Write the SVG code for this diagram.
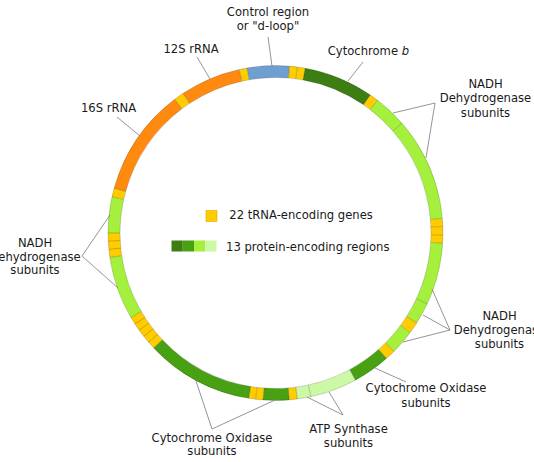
<svg xmlns="http://www.w3.org/2000/svg" width="534" height="462" viewBox="0 0 534 462">
<style>
text{font-family:"DejaVu Sans","Liberation Sans",sans-serif;font-size:11.6px;fill:#1a1a1a}
.m{text-anchor:middle}
.seg{fill:none;stroke-width:12}
.dk{stroke:#3c7e12}
.md{stroke:#48a112}
.lt{stroke:#a4f03c}
.pl{stroke:#cbf9a6}
.or{stroke:#ff8a0f}
.bl{stroke:#6f9fd1}
.ye{stroke:#ffcc00}
.tick{stroke:#000;stroke-opacity:0.28;stroke-width:0.7}
.ring{fill:none;stroke:#000;stroke-opacity:0.22;stroke-width:0.7}
.ld{fill:none;stroke:#7a7a7a;stroke-width:0.8}
</style>
<defs>
<line id="t" x1="275.5" y1="77.5" x2="275.5" y2="65.5" class="tick"/>
</defs>
<rect width="534" height="462" fill="#fff"/>
<g id="genome">
<g id="control-region"><circle cx="275.5" cy="233" r="161.5" pathLength="360" class="seg bl" stroke-dasharray="14.6 400" transform="rotate(260.2 275.5 233)"/></g>
<g id="trna-thr"><circle cx="275.5" cy="233" r="161.5" pathLength="360" class="seg ye" stroke-dasharray="2.7 400" transform="rotate(-85.2 275.5 233)"/></g>
<g id="trna-pro"><circle cx="275.5" cy="233" r="161.5" pathLength="360" class="seg ye" stroke-dasharray="2.7 400" transform="rotate(-82.5 275.5 233)"/></g>
<g id="cytb"><circle cx="275.5" cy="233" r="161.5" pathLength="360" class="seg dk" stroke-dasharray="24.3 400" transform="rotate(-79.8 275.5 233)"/></g>
<g id="trna-glu"><circle cx="275.5" cy="233" r="161.5" pathLength="360" class="seg ye" stroke-dasharray="3 400" transform="rotate(-55.5 275.5 233)"/></g>
<g id="nd6"><circle cx="275.5" cy="233" r="161.5" pathLength="360" class="seg lt" stroke-dasharray="11.5 400" transform="rotate(-52.5 275.5 233)"/></g>
<g id="nd5"><circle cx="275.5" cy="233" r="161.5" pathLength="360" class="seg lt" stroke-dasharray="36 400" transform="rotate(-41 275.5 233)"/></g>
<g id="trna-leu2"><circle cx="275.5" cy="233" r="161.5" pathLength="360" class="seg ye" stroke-dasharray="2.8 400" transform="rotate(-5 275.5 233)"/></g>
<g id="trna-ser2"><circle cx="275.5" cy="233" r="161.5" pathLength="360" class="seg ye" stroke-dasharray="2.9 400" transform="rotate(-2.2 275.5 233)"/></g>
<g id="trna-his"><circle cx="275.5" cy="233" r="161.5" pathLength="360" class="seg ye" stroke-dasharray="2.8 400" transform="rotate(0.7 275.5 233)"/></g>
<g id="nd4"><circle cx="275.5" cy="233" r="161.5" pathLength="360" class="seg lt" stroke-dasharray="21.5 400" transform="rotate(3.5 275.5 233)"/></g>
<g id="nd4l"><circle cx="275.5" cy="233" r="161.5" pathLength="360" class="seg lt" stroke-dasharray="7.5 400" transform="rotate(25 275.5 233)"/></g>
<g id="trna-arg"><circle cx="275.5" cy="233" r="161.5" pathLength="360" class="seg ye" stroke-dasharray="4 400" transform="rotate(32.5 275.5 233)"/></g>
<g id="nd3"><circle cx="275.5" cy="233" r="161.5" pathLength="360" class="seg lt" stroke-dasharray="8.5 400" transform="rotate(36.5 275.5 233)"/></g>
<g id="trna-gly"><circle cx="275.5" cy="233" r="161.5" pathLength="360" class="seg ye" stroke-dasharray="3.5 400" transform="rotate(45 275.5 233)"/></g>
<g id="cox3"><circle cx="275.5" cy="233" r="161.5" pathLength="360" class="seg md" stroke-dasharray="13 400" transform="rotate(48.5 275.5 233)"/></g>
<g id="atp6"><circle cx="275.5" cy="233" r="161.5" pathLength="360" class="seg pl" stroke-dasharray="16.3 400" transform="rotate(61.5 275.5 233)"/></g>
<g id="atp8"><circle cx="275.5" cy="233" r="161.5" pathLength="360" class="seg pl" stroke-dasharray="4.7 400" transform="rotate(77.8 275.5 233)"/></g>
<g id="trna-lys"><circle cx="275.5" cy="233" r="161.5" pathLength="360" class="seg ye" stroke-dasharray="2.8 400" transform="rotate(82.5 275.5 233)"/></g>
<g id="cox2"><circle cx="275.5" cy="233" r="161.5" pathLength="360" class="seg md" stroke-dasharray="9 400" transform="rotate(85.3 275.5 233)"/></g>
<g id="trna-asp"><circle cx="275.5" cy="233" r="161.5" pathLength="360" class="seg ye" stroke-dasharray="2.5 400" transform="rotate(94.3 275.5 233)"/></g>
<g id="trna-ser1"><circle cx="275.5" cy="233" r="161.5" pathLength="360" class="seg ye" stroke-dasharray="2.4 400" transform="rotate(96.8 275.5 233)"/></g>
<g id="cox1"><circle cx="275.5" cy="233" r="161.5" pathLength="360" class="seg md" stroke-dasharray="37.5 400" transform="rotate(99.2 275.5 233)"/></g>
<g id="trna-tyr-cys-asn-ala-trp"><circle cx="275.5" cy="233" r="161.5" pathLength="360" class="seg ye" stroke-dasharray="13 400" transform="rotate(136.7 275.5 233)"/></g>
<g id="nd2"><circle cx="275.5" cy="233" r="161.5" pathLength="360" class="seg lt" stroke-dasharray="21.9 400" transform="rotate(149.7 275.5 233)"/></g>
<g id="trna-met-gln-ile"><circle cx="275.5" cy="233" r="161.5" pathLength="360" class="seg ye" stroke-dasharray="8.4 400" transform="rotate(171.6 275.5 233)"/></g>
<g id="nd1"><circle cx="275.5" cy="233" r="161.5" pathLength="360" class="seg lt" stroke-dasharray="12.5 400" transform="rotate(180 275.5 233)"/></g>
<g id="trna-leu1"><circle cx="275.5" cy="233" r="161.5" pathLength="360" class="seg ye" stroke-dasharray="3 400" transform="rotate(192.5 275.5 233)"/></g>
<g id="rrna-16s"><circle cx="275.5" cy="233" r="161.5" pathLength="360" class="seg or" stroke-dasharray="37.5 400" transform="rotate(195.5 275.5 233)"/></g>
<g id="trna-val"><circle cx="275.5" cy="233" r="161.5" pathLength="360" class="seg ye" stroke-dasharray="3.5 400" transform="rotate(233 275.5 233)"/></g>
<g id="rrna-12s"><circle cx="275.5" cy="233" r="161.5" pathLength="360" class="seg or" stroke-dasharray="21 400" transform="rotate(236.5 275.5 233)"/></g>
<g id="trna-phe"><circle cx="275.5" cy="233" r="161.5" pathLength="360" class="seg ye" stroke-dasharray="2.7 400" transform="rotate(257.5 275.5 233)"/></g>
<circle cx="275.5" cy="233" r="167.5" class="ring"/>
<circle cx="275.5" cy="233" r="155.5" class="ring"/>
<g id="boundaries">
<use href="#t" transform="rotate(-9.8 275.5 233)"/>
<use href="#t" transform="rotate(4.8 275.5 233)"/>
<use href="#t" transform="rotate(7.5 275.5 233)"/>
<use href="#t" transform="rotate(10.2 275.5 233)"/>
<use href="#t" transform="rotate(34.5 275.5 233)"/>
<use href="#t" transform="rotate(37.5 275.5 233)"/>
<use href="#t" transform="rotate(49 275.5 233)"/>
<use href="#t" transform="rotate(85 275.5 233)"/>
<use href="#t" transform="rotate(87.8 275.5 233)"/>
<use href="#t" transform="rotate(90.7 275.5 233)"/>
<use href="#t" transform="rotate(93.5 275.5 233)"/>
<use href="#t" transform="rotate(115 275.5 233)"/>
<use href="#t" transform="rotate(122.5 275.5 233)"/>
<use href="#t" transform="rotate(126.5 275.5 233)"/>
<use href="#t" transform="rotate(135 275.5 233)"/>
<use href="#t" transform="rotate(138.5 275.5 233)"/>
<use href="#t" transform="rotate(151.5 275.5 233)"/>
<use href="#t" transform="rotate(167.8 275.5 233)"/>
<use href="#t" transform="rotate(172.5 275.5 233)"/>
<use href="#t" transform="rotate(175.3 275.5 233)"/>
<use href="#t" transform="rotate(184.3 275.5 233)"/>
<use href="#t" transform="rotate(186.8 275.5 233)"/>
<use href="#t" transform="rotate(189.2 275.5 233)"/>
<use href="#t" transform="rotate(226.7 275.5 233)"/>
<use href="#t" transform="rotate(229.3 275.5 233)"/>
<use href="#t" transform="rotate(231.9 275.5 233)"/>
<use href="#t" transform="rotate(234.5 275.5 233)"/>
<use href="#t" transform="rotate(237.1 275.5 233)"/>
<use href="#t" transform="rotate(239.7 275.5 233)"/>
<use href="#t" transform="rotate(261.6 275.5 233)"/>
<use href="#t" transform="rotate(264.4 275.5 233)"/>
<use href="#t" transform="rotate(267.2 275.5 233)"/>
<use href="#t" transform="rotate(270 275.5 233)"/>
<use href="#t" transform="rotate(282.5 275.5 233)"/>
<use href="#t" transform="rotate(285.5 275.5 233)"/>
<use href="#t" transform="rotate(323 275.5 233)"/>
<use href="#t" transform="rotate(326.5 275.5 233)"/>
<use href="#t" transform="rotate(347.5 275.5 233)"/>
</g>
</g>
<g id="connectors">
<polyline class="ld" points="268,37 272,66"/>
<polyline class="ld" points="197,57 210,79"/>
<polyline class="ld" points="363,62 348,81"/>
<polyline class="ld" points="117,117 140,136"/>
<polyline class="ld" points="393,113 435,103 426,158"/>
<polyline class="ld" points="432,289 450,330 423,315"/>
<polyline class="ld" points="450,330 403,342"/>
<polyline class="ld" points="375,368 406,382"/>
<polyline class="ld" points="307,397 343,415 329,392"/>
<polyline class="ld" points="195,378 212,429 275,400"/>
<polyline class="ld" points="110,215 82,256 118,288"/>
</g>
<g id="labels">
<g id="lbl-control"><text class="m" x="268" y="16">Control region</text><text class="m" x="268" y="30">or "d-loop"</text></g>
<g id="lbl-12s"><text class="m" x="191" y="53">12S rRNA</text></g>
<g id="lbl-cytb"><text x="327.7" y="55">Cytochrome <tspan font-style="italic">b</tspan></text></g>
<g id="lbl-16s"><text class="m" x="108.5" y="112">16S rRNA</text></g>
<g id="lbl-nadh-tr"><text class="m" x="485.5" y="87.5">NADH</text><text class="m" x="485.5" y="102">Dehydrogenase</text><text class="m" x="485.5" y="116.5">subunits</text></g>
<g id="lbl-nadh-br"><text class="m" x="499.5" y="319.5">NADH</text><text class="m" x="499.5" y="334">Dehydrogenase</text><text class="m" x="499.5" y="348">subunits</text></g>
<g id="lbl-cox-r"><text class="m" x="426" y="392">Cytochrome Oxidase</text><text class="m" x="426" y="406.5">subunits</text></g>
<g id="lbl-atp"><text class="m" x="348.5" y="433">ATP Synthase</text><text class="m" x="348.5" y="446.5">subunits</text></g>
<g id="lbl-cox-b"><text class="m" x="212" y="442">Cytochrome Oxidase</text><text class="m" x="212" y="455">subunits</text></g>
<g id="lbl-nadh-l"><text class="m" x="35" y="247">NADH</text><text class="m" x="35" y="260.5">Dehydrogenase</text><text class="m" x="35" y="274">subunits</text></g>
</g>
<g id="legend">
<rect x="206" y="210.5" width="11" height="11" fill="#ffcc00" stroke="#e0a800" stroke-width="0.6"/>
<text x="229.3" y="219.3">22 tRNA-encoding genes</text>
<rect x="171.5" y="240.5" width="11.25" height="11" fill="#3c7e12"/>
<rect x="182.75" y="240.5" width="11.25" height="11" fill="#48a112"/>
<rect x="194" y="240.5" width="11.25" height="11" fill="#a4f03c"/>
<rect x="205.25" y="240.5" width="11.25" height="11" fill="#cbf9a6"/>
<text x="226" y="250.7">13 protein-encoding regions</text>
</g>
</svg>
